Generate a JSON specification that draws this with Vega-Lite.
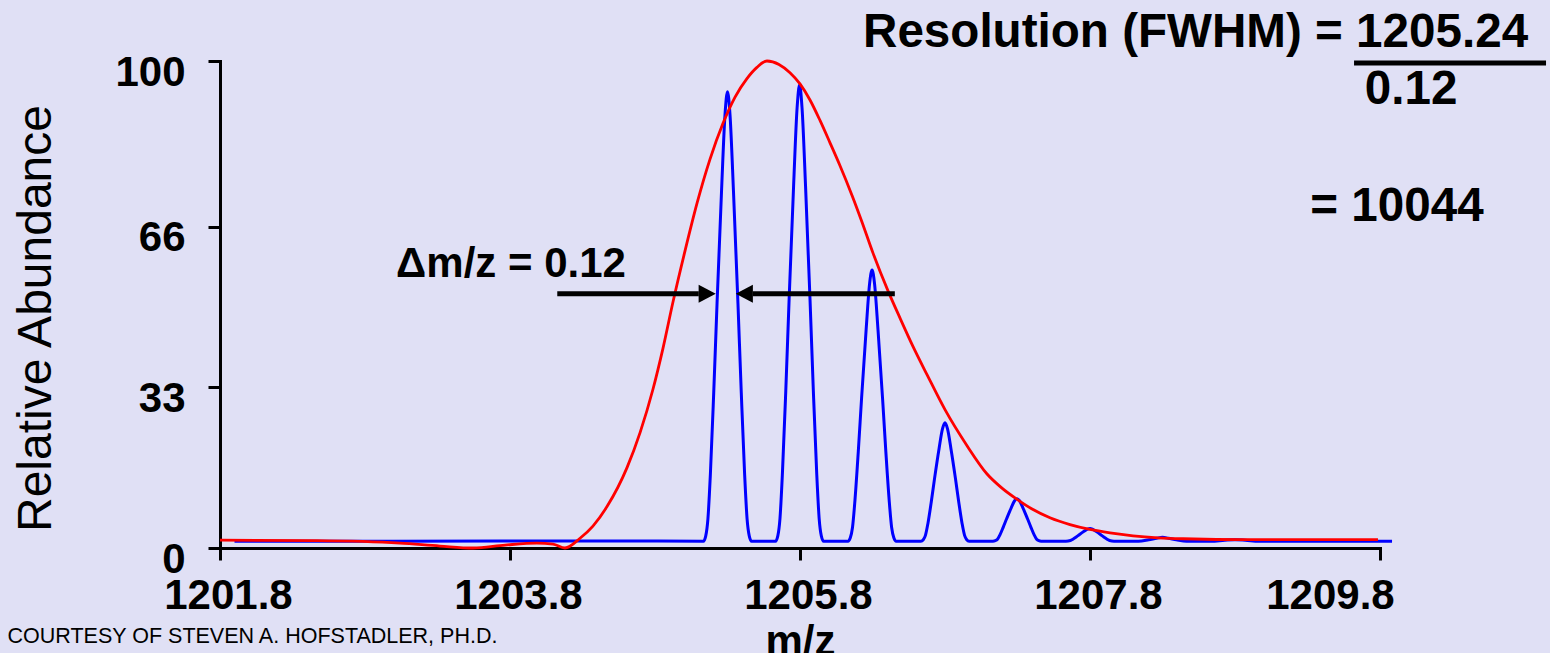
{
  "$schema": "https://vega.github.io/schema/vega-lite/v6.json",
  "width": 1160,
  "height": 487,
  "autosize": {"type": "none"},
  "padding": {"left": 220, "top": 61, "right": 170, "bottom": 105},
  "background": "#e0e0f5",
  "config": {"view": {"stroke": null}, "font": "Liberation Sans"},
  "datasets": {
    "envelope": [
      {"mz": 1201.8, "ab": 1.6}, {"mz": 1202.469, "ab": 1.5}, {"mz": 1203.041, "ab": 1.0},
      {"mz": 1203.317, "ab": 0.4}, {"mz": 1203.545, "ab": 0.0}, {"mz": 1203.766, "ab": 0.6},
      {"mz": 1203.986, "ab": 1.0}, {"mz": 1204.097, "ab": 0.8}, {"mz": 1204.179, "ab": 0.0},
      {"mz": 1204.283, "ab": 2.0}, {"mz": 1204.372, "ab": 4.5}, {"mz": 1204.469, "ab": 8.5},
      {"mz": 1204.607, "ab": 16.5}, {"mz": 1204.697, "ab": 23.7}, {"mz": 1204.786, "ab": 32.6},
      {"mz": 1204.855, "ab": 41.0}, {"mz": 1204.924, "ab": 50.5}, {"mz": 1205.007, "ab": 61.0},
      {"mz": 1205.09, "ab": 70.8}, {"mz": 1205.179, "ab": 79.8}, {"mz": 1205.269, "ab": 87.2},
      {"mz": 1205.352, "ab": 92.6}, {"mz": 1205.434, "ab": 96.4}, {"mz": 1205.503, "ab": 98.7},
      {"mz": 1205.572, "ab": 100.0}, {"mz": 1205.655, "ab": 99.3}, {"mz": 1205.731, "ab": 97.6},
      {"mz": 1205.8, "ab": 95.3}, {"mz": 1205.869, "ab": 92.0}, {"mz": 1205.938, "ab": 87.8},
      {"mz": 1206.007, "ab": 83.2}, {"mz": 1206.076, "ab": 78.5}, {"mz": 1206.159, "ab": 72.4},
      {"mz": 1206.228, "ab": 66.9}, {"mz": 1206.303, "ab": 60.6}, {"mz": 1206.407, "ab": 52.8},
      {"mz": 1206.49, "ab": 47.2}, {"mz": 1206.579, "ab": 41.4}, {"mz": 1206.676, "ab": 35.6},
      {"mz": 1206.8, "ab": 28.4}, {"mz": 1206.952, "ab": 21.0}, {"mz": 1207.09, "ab": 15.2},
      {"mz": 1207.193, "ab": 12.3}, {"mz": 1207.297, "ab": 10.0}, {"mz": 1207.407, "ab": 7.9},
      {"mz": 1207.524, "ab": 6.2}, {"mz": 1207.662, "ab": 4.8}, {"mz": 1207.8, "ab": 3.8},
      {"mz": 1207.938, "ab": 3.1}, {"mz": 1208.097, "ab": 2.5}, {"mz": 1208.269, "ab": 2.1},
      {"mz": 1208.441, "ab": 1.9}, {"mz": 1208.903, "ab": 1.7}, {"mz": 1209.786, "ab": 1.7}
    ],
    "peaks": [
      {"mz": 1201.9, "ab": 1.4}, {"mz": 1203.0, "ab": 1.4}, {"mz": 1204.5, "ab": 1.45},
      {"mz": 1205.134, "ab": 1.4}, {"mz": 1205.15, "ab": 2.5}, {"mz": 1205.165, "ab": 6.0}, {"mz": 1205.182, "ab": 15.2},
      {"mz": 1205.205, "ab": 31.9}, {"mz": 1205.228, "ab": 50.3}, {"mz": 1205.259, "ab": 73.4}, {"mz": 1205.283, "ab": 89.1},
      {"mz": 1205.3, "ab": 93.7},
      {"mz": 1205.317, "ab": 89.1}, {"mz": 1205.341, "ab": 73.4}, {"mz": 1205.372, "ab": 50.3}, {"mz": 1205.395, "ab": 31.9},
      {"mz": 1205.418, "ab": 15.2}, {"mz": 1205.435, "ab": 6.0}, {"mz": 1205.45, "ab": 2.5}, {"mz": 1205.466, "ab": 1.4},
      {"mz": 1205.631, "ab": 1.4}, {"mz": 1205.647, "ab": 2.5}, {"mz": 1205.662, "ab": 6.1}, {"mz": 1205.679, "ab": 15.5},
      {"mz": 1205.702, "ab": 32.3}, {"mz": 1205.725, "ab": 51.1}, {"mz": 1205.756, "ab": 74.5}, {"mz": 1205.78, "ab": 90.4},
      {"mz": 1205.797, "ab": 95.1},
      {"mz": 1205.814, "ab": 90.4}, {"mz": 1205.838, "ab": 74.5}, {"mz": 1205.869, "ab": 51.1}, {"mz": 1205.892, "ab": 32.3},
      {"mz": 1205.915, "ab": 15.5}, {"mz": 1205.932, "ab": 6.1}, {"mz": 1205.947, "ab": 2.5}, {"mz": 1205.963, "ab": 1.4},
      {"mz": 1206.131, "ab": 1.4}, {"mz": 1206.147, "ab": 2.1}, {"mz": 1206.162, "ab": 4.2}, {"mz": 1206.179, "ab": 9.8},
      {"mz": 1206.202, "ab": 19.8}, {"mz": 1206.225, "ab": 30.9}, {"mz": 1206.256, "ab": 44.8}, {"mz": 1206.28, "ab": 54.3},
      {"mz": 1206.297, "ab": 57.1},
      {"mz": 1206.314, "ab": 54.3}, {"mz": 1206.338, "ab": 44.8}, {"mz": 1206.369, "ab": 30.9}, {"mz": 1206.392, "ab": 19.8},
      {"mz": 1206.415, "ab": 9.8}, {"mz": 1206.432, "ab": 4.2}, {"mz": 1206.447, "ab": 2.1}, {"mz": 1206.463, "ab": 1.4},
      {"mz": 1206.634, "ab": 1.4}, {"mz": 1206.65, "ab": 1.7}, {"mz": 1206.665, "ab": 2.6}, {"mz": 1206.682, "ab": 5.0},
      {"mz": 1206.705, "ab": 9.4}, {"mz": 1206.728, "ab": 14.3}, {"mz": 1206.759, "ab": 20.4}, {"mz": 1206.783, "ab": 24.5},
      {"mz": 1206.8, "ab": 25.7},
      {"mz": 1206.817, "ab": 24.5}, {"mz": 1206.841, "ab": 20.4}, {"mz": 1206.872, "ab": 14.3}, {"mz": 1206.895, "ab": 9.4},
      {"mz": 1206.918, "ab": 5.0}, {"mz": 1206.935, "ab": 2.6}, {"mz": 1206.95, "ab": 1.7}, {"mz": 1206.966, "ab": 1.4},
      {"mz": 1207.131, "ab": 1.4}, {"mz": 1207.147, "ab": 1.5}, {"mz": 1207.162, "ab": 1.8}, {"mz": 1207.179, "ab": 2.7},
      {"mz": 1207.202, "ab": 4.3}, {"mz": 1207.225, "ab": 6.0}, {"mz": 1207.256, "ab": 8.2}, {"mz": 1207.28, "ab": 9.7},
      {"mz": 1207.297, "ab": 10.1},
      {"mz": 1207.314, "ab": 9.7}, {"mz": 1207.338, "ab": 8.2}, {"mz": 1207.369, "ab": 6.0}, {"mz": 1207.392, "ab": 4.3},
      {"mz": 1207.415, "ab": 2.7}, {"mz": 1207.432, "ab": 1.8}, {"mz": 1207.447, "ab": 1.5}, {"mz": 1207.463, "ab": 1.4},
      {"mz": 1207.634, "ab": 1.4}, {"mz": 1207.665, "ab": 1.53}, {"mz": 1207.682, "ab": 1.8},
      {"mz": 1207.705, "ab": 2.26}, {"mz": 1207.728, "ab": 2.78}, {"mz": 1207.759, "ab": 3.43}, {"mz": 1207.783, "ab": 3.87},
      {"mz": 1207.8, "ab": 4.0},
      {"mz": 1207.817, "ab": 3.87}, {"mz": 1207.841, "ab": 3.43}, {"mz": 1207.872, "ab": 2.78}, {"mz": 1207.895, "ab": 2.26},
      {"mz": 1207.918, "ab": 1.8}, {"mz": 1207.935, "ab": 1.53}, {"mz": 1207.966, "ab": 1.4},
      {"mz": 1208.134, "ab": 1.4}, {"mz": 1208.205, "ab": 1.7}, {"mz": 1208.259, "ab": 2.0}, {"mz": 1208.3, "ab": 2.2},
      {"mz": 1208.341, "ab": 2.0}, {"mz": 1208.395, "ab": 1.7}, {"mz": 1208.466, "ab": 1.4},
      {"mz": 1208.634, "ab": 1.4}, {"mz": 1208.73, "ab": 1.6}, {"mz": 1208.8, "ab": 1.7}, {"mz": 1208.87, "ab": 1.6},
      {"mz": 1208.966, "ab": 1.4}, {"mz": 1209.3, "ab": 1.4}, {"mz": 1209.883, "ab": 1.4}
    ],
    "shafts": [
      {"mz": 1204.126, "mz2": 1205.102, "ab": 52.2},
      {"mz": 1206.454, "mz2": 1205.474, "ab": 52.2}
    ],
    "heads": [
      {"mz": 1205.219, "ab": 52.2, "dir": "right"},
      {"mz": 1205.357, "ab": 52.2, "dir": "left"}
    ],
    "fracbar": [
      {"mz": 1209.621, "mz2": 1210.945, "ab": 99.6}
    ],
    "bigtext": [
      {"mz": 1208.528, "ab": 102.9, "label": "Resolution (FWHM) = 1205.24"},
      {"mz": 1210.014, "ab": 91.2, "label": "0.12"},
      {"mz": 1209.917, "ab": 67.1, "label": "= 10044"}
    ],
    "deltatext": [
      {"mz": 1203.807, "ab": 55.7, "label": "Δm/z = 0.12"}
    ],
    "credit": [
      {"mz": 1202.024, "ab": -19.5, "label": "COURTESY OF STEVEN A. HOFSTADLER, PH.D."}
    ]
  },
  "encoding": {
    "x": {
      "field": "mz", "type": "quantitative",
      "scale": {"domain": [1201.8, 1209.8], "nice": false, "zero": false},
      "axis": {
        "values": [1201.8, 1203.8, 1205.8, 1207.8, 1209.8], "format": ".1f", "title": "m/z", "grid": false,
        "domainColor": "#000000", "domainWidth": 3, "domainCap": "square",
        "tickColor": "#000000", "tickWidth": 3, "tickSize": 12,
        "labelFont": "Liberation Sans", "labelFontSize": 42, "labelFontWeight": "bold", "labelColor": "#000000",
        "labelBaseline": "alphabetic", "labelPadding": 48, "labelFlush": false, "labelOverlap": false, "labelBound": false,
        "labelOffset": {"condition": {"test": "datum.value > 1209", "value": -50}, "value": 8},
        "titleFont": "Liberation Sans", "titleFontSize": 42, "titleFontWeight": "bold", "titleColor": "#000000",
        "titleX": 580, "titleY": 106, "titleBaseline": "alphabetic", "titleAlign": "center"
      }
    },
    "y": {
      "field": "ab", "type": "quantitative",
      "scale": {"domain": [0, 100], "nice": false, "zero": false},
      "axis": {
        "values": [0, 33, 66, 100], "format": "d", "title": "Relative Abundance", "grid": false,
        "domainColor": "#000000", "domainWidth": 3, "domainCap": "square",
        "tickColor": "#000000", "tickWidth": 3, "tickSize": 12,
        "labelFont": "Liberation Sans", "labelFontSize": 42, "labelFontWeight": "bold", "labelColor": "#000000",
        "labelBaseline": "alphabetic", "labelOffset": 24, "labelPadding": 23, "labelOverlap": false, "labelFlush": false,
        "titleFont": "Liberation Sans", "titleFontSize": 48, "titleFontWeight": "normal", "titleColor": "#000000",
        "titleAngle": 270, "titleX": -170, "titleY": 257, "titleBaseline": "alphabetic", "titleAlign": "center"
      }
    }
  },
  "layer": [
    {"data": {"name": "peaks"}, "mark": {"type": "line", "color": "#0000ff", "strokeWidth": 3, "interpolate": "monotone"}},
    {"data": {"name": "envelope"}, "mark": {"type": "line", "color": "#ff0000", "strokeWidth": 2.8, "interpolate": "monotone"}},
    {"data": {"name": "shafts"}, "mark": {"type": "rule", "color": "#000000", "strokeWidth": 5}, "encoding": {"x2": {"field": "mz2"}}},
    {"data": {"name": "heads"}, "mark": {"type": "point", "filled": true, "color": "#000000", "opacity": 1, "size": 324, "strokeWidth": 0},
     "encoding": {"shape": {"field": "dir", "type": "nominal", "scale": {"domain": ["right", "left"], "range": ["M-1.9,-1L0,0L-1.9,1Z", "M1.9,-1L0,0L1.9,1Z"]}, "legend": null}}},
    {"data": {"name": "fracbar"}, "mark": {"type": "rule", "color": "#000000", "strokeWidth": 5}, "encoding": {"x2": {"field": "mz2"}}},
    {"data": {"name": "bigtext"}, "mark": {"type": "text", "font": "Liberation Sans", "fontSize": 47.6, "fontWeight": "bold", "color": "#000000", "align": "center", "baseline": "alphabetic"},
     "encoding": {"text": {"field": "label"}}},
    {"data": {"name": "deltatext"}, "mark": {"type": "text", "font": "Liberation Sans", "fontSize": 42, "fontWeight": "bold", "color": "#000000", "align": "center", "baseline": "alphabetic"},
     "encoding": {"text": {"field": "label"}}},
    {"data": {"name": "credit"}, "mark": {"type": "text", "font": "Liberation Sans", "fontSize": 21.5, "fontWeight": "normal", "color": "#000000", "align": "center", "baseline": "alphabetic"},
     "encoding": {"text": {"field": "label"}}}
  ]
}
